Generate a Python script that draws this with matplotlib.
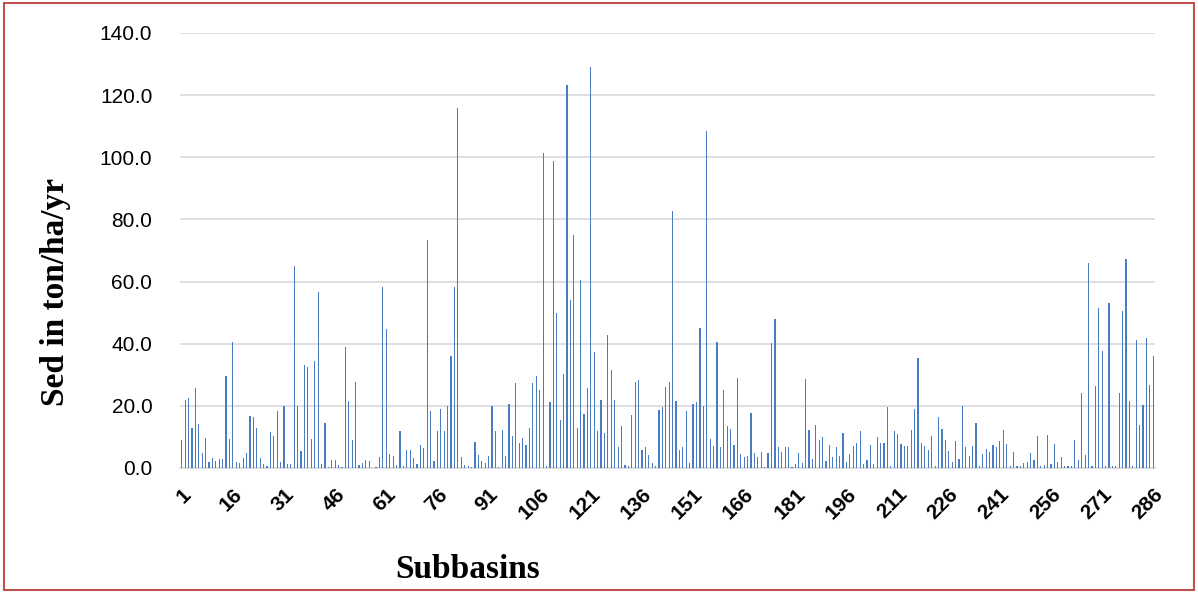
import matplotlib
matplotlib.use("Agg")
from matplotlib import pyplot as plt
from matplotlib.patches import Rectangle

# sediment yield per subbasin (ton/ha/yr)
sed_1_48 = [9.1, 21.9, 22.4, 12.8, 25.6, 14.2, 4.8, 9.6, 2.0, 3.2, 2.1, 2.9, 2.9, 29.6, 9.3, 40.5,
            1.9, 1.6, 3.2, 4.8, 16.8, 16.4, 12.8, 3.2, 1.3, 0.5, 11.6, 10.2, 18.2, 1.8, 20.0, 1.3,
            1.3, 65.0, 19.8, 5.6, 33.0, 32.5, 9.3, 34.4, 56.6, 1.3, 14.4, 0.2, 2.7, 2.7, 1.1, 0.2]
sed_49_96 = [38.9, 21.6, 8.9, 27.6, 1.1, 1.6, 2.7, 2.4, 0.1, 0.3, 3.5, 58.2, 44.7, 4.6, 4.0, 1.1,
             12.0, 0.7, 5.9, 5.9, 3.1, 1.3, 7.4, 6.4, 73.3, 18.2, 2.4, 12.0, 19.0, 11.8, 20.0, 36.1,
             58.4, 116.0, 3.5, 1.1, 0.7, 0.3, 8.3, 4.2, 2.1, 1.7, 3.7, 20.0, 12.0, 0.3, 12.1, 4.0]
sed_97_144 = [20.6, 10.2, 27.4, 8.0, 9.8, 7.5, 12.8, 27.5, 29.5, 25.1, 101.5, 0.7, 21.2, 98.9, 49.8, 15.5,
              30.4, 123.3, 54.2, 74.9, 13.0, 60.4, 17.3, 25.8, 128.9, 37.3, 11.8, 21.9, 11.4, 42.9, 31.6, 21.9,
              6.7, 13.4, 1.1, 0.5, 17.1, 27.7, 28.2, 5.9, 6.6, 4.3, 1.6, 0.5, 18.6, 19.5, 26.2, 27.8]
sed_145_192 = [82.6, 21.7, 5.9, 6.6, 18.4, 1.6, 20.6, 21.3, 45.2, 19.8, 108.6, 9.4, 7.2, 40.5, 6.6, 25.1,
               13.4, 12.5, 7.5, 29.1, 4.5, 3.5, 3.9, 17.6, 4.8, 3.5, 5.0, 0.3, 4.8, 40.3, 47.9, 6.6,
               5.1, 6.8, 6.7, 0.3, 1.3, 4.8, 1.6, 28.7, 12.1, 3.0, 13.9, 9.1, 10.1, 2.4, 7.3, 3.5]
sed_193_240 = [6.7, 3.7, 11.2, 1.8, 4.6, 7.0, 8.0, 11.8, 1.4, 2.7, 7.4, 1.3, 9.9, 8.0, 8.2, 19.7,
               0.7, 11.9, 10.8, 7.7, 7.0, 7.2, 12.3, 19.0, 35.5, 8.0, 7.2, 5.7, 10.2, 0.7, 16.4, 12.6,
               9.1, 5.6, 1.8, 8.6, 2.9, 20.0, 6.6, 3.7, 7.2, 14.5, 0.7, 4.6, 6.1, 5.1, 7.5, 6.6]
sed_241_286 = [8.7, 12.3, 7.7, 0.5, 5.0, 0.7, 0.5, 1.6, 1.9, 4.8, 2.7, 10.2, 0.7, 1.0, 10.6, 1.4,
               7.8, 1.8, 3.4, 0.5, 0.7, 0.7, 9.1, 2.7, 24.1, 4.3, 66.1, 0.5, 26.4, 51.6, 37.6, 0.7,
               53.2, 0.7, 0.5, 24.2, 50.5, 67.2, 21.5, 0.5, 41.2, 13.9, 20.3, 41.7, 26.7, 36.0]

sed = sed_1_48 + sed_49_96 + sed_97_144 + sed_145_192 + sed_193_240 + sed_241_286
subbasins = list(range(1, len(sed) + 1))
x_ticks = list(range(1, 287, 15))
y_ticks = [0, 20, 40, 60, 80, 100, 120, 140]

fig = plt.figure(figsize=(11.98, 5.93), dpi=100)
ax = fig.add_axes([0.1503, 0.2108, 0.8138, 0.7336])

ax.bar(subbasins, sed, width=0.35, color="#4A7CC6", zorder=3)

ax.set_xlim(0.5, len(sed) + 0.5)
ax.set_ylim(0, 140)
ax.set_yticks(y_ticks)
ax.set_yticklabels([f"{v:.1f}" for v in y_ticks], fontsize=15, family="Liberation Sans")
ax.set_xticks(x_ticks)
ax.set_xticklabels([str(t) for t in x_ticks], rotation=45, ha="right", rotation_mode="anchor",
                   fontsize=15, fontweight="bold", family="Liberation Sans")

ax.grid(axis="y", color="#D9D9D9", linewidth=1.2, zorder=0)
for side in ["top", "right", "left"]:
    ax.spines[side].set_visible(False)
ax.spines["bottom"].set_color("#D9D9D9")
ax.spines["bottom"].set_linewidth(1.2)
ax.tick_params(axis="y", length=0, pad=20)
ax.tick_params(axis="x", length=0, pad=12)

fig.text(0.390, 0.040, "Subbasins", fontsize=24, fontweight="bold",
         family="Liberation Serif", ha="center", va="center")
fig.text(0.046, 0.508, "Sed in ton/ha/yr", fontsize=24, fontweight="bold",
         family="Liberation Serif", ha="center", va="center", rotation=90)

# red frame around the whole figure
fig.patches.append(Rectangle((0.003, 0.005), 0.994, 0.99, transform=fig.transFigure,
                             fill=False, edgecolor="#C0504D", linewidth=1.5))

fig.savefig("out.png", dpi=100)
